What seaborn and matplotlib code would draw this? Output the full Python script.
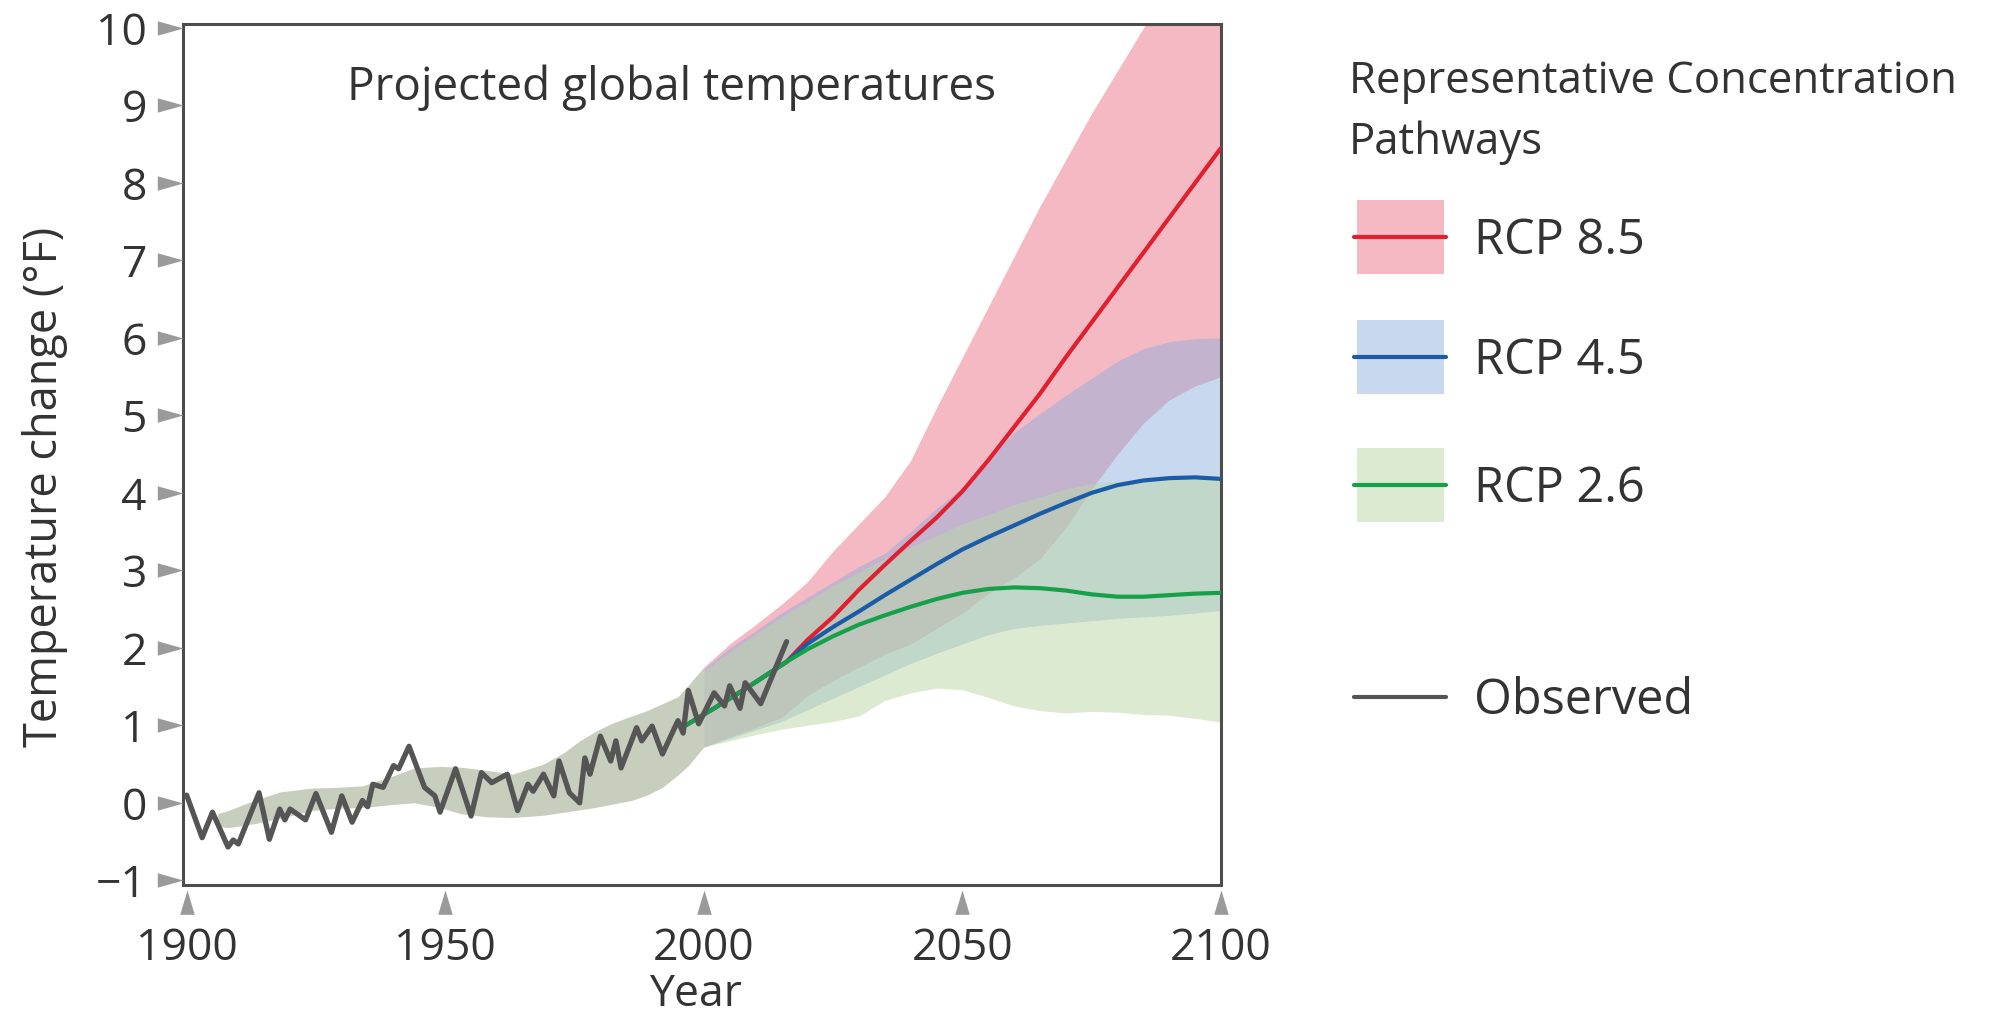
import matplotlib
matplotlib.use("Agg")
import matplotlib.pyplot as plt
from matplotlib.path import Path
from matplotlib.patches import Rectangle
from matplotlib.lines import Line2D
from matplotlib.transforms import blended_transform_factory
import pandas as pd
import seaborn as sns

# ---------------------------------------------------------------- data
obs_years = [1900, 1903, 1905, 1908, 1909, 1910, 1914, 1916, 1918, 1919,
             1920, 1923, 1925, 1928, 1930, 1932, 1934, 1935, 1936, 1938,
             1940, 1941, 1943, 1946, 1948, 1949, 1952, 1955, 1957, 1959,
             1962, 1964, 1966, 1967, 1969, 1971, 1972, 1974, 1976, 1977,
             1978, 1980, 1982, 1983, 1984, 1987, 1988, 1990, 1992, 1995,
             1996, 1997, 1999, 2002, 2004, 2005, 2007, 2008, 2011, 2016]
obs_values = [0.10, -0.45, -0.12, -0.57, -0.48, -0.53, 0.13, -0.47, -0.08, -0.22,
              -0.08, -0.22, 0.12, -0.38, 0.09, -0.25, 0.03, -0.05, 0.24, 0.20,
              0.48, 0.44, 0.73, 0.20, 0.09, -0.12, 0.44, -0.17, 0.39, 0.26,
              0.37, -0.10, 0.24, 0.15, 0.37, 0.09, 0.54, 0.13, 0.00, 0.58,
              0.37, 0.86, 0.54, 0.80, 0.45, 0.97, 0.80, 0.99, 0.63, 1.06,
              0.90, 1.45, 1.02, 1.42, 1.25, 1.51, 1.22, 1.55, 1.28, 2.08]

# modelled historical range
hist_years = [1906, 1908, 1913, 1918, 1924, 1929, 1934, 1940, 1944, 1949,
              1953, 1958, 1963, 1969, 1973, 1976, 1979, 1982, 1986, 1989,
              1992, 1995, 1997, 2000]
hist_upper = [-0.14, -0.10, 0.03, 0.14, 0.19, 0.20, 0.22, 0.35, 0.45, 0.47,
              0.46, 0.42, 0.37, 0.50, 0.65, 0.80, 0.92, 1.02, 1.12, 1.19,
              1.28, 1.37, 1.52, 1.75]
hist_lower = [-0.30, -0.32, -0.27, -0.20, -0.10, -0.07, -0.06, -0.02, 0.00, -0.06,
              -0.14, -0.18, -0.19, -0.16, -0.12, -0.09, -0.06, -0.02, 0.03, 0.10,
              0.20, 0.36, 0.48, 0.72]

# projected ranges
range_years = [2000, 2005, 2010, 2015, 2020, 2025, 2030, 2035, 2040, 2045, 2050,
               2055, 2060, 2065, 2070, 2075, 2080, 2085, 2090, 2095, 2100]
rcp85_upper = [1.75, 2.05, 2.30, 2.56, 2.85, 3.25, 3.60, 3.95, 4.42, 5.10, 5.75,
               6.40, 7.05, 7.70, 8.30, 8.90, 9.45, 10.00, 10.55, 11.10, 11.65]
rcp85_lower = [0.72, 0.85, 0.97, 1.10, 1.38, 1.58, 1.75, 1.92, 2.05, 2.25, 2.45,
               2.70, 2.90, 3.15, 3.55, 4.05, 4.50, 4.90, 5.20, 5.38, 5.50]
rcp45_upper = [1.73, 2.00, 2.22, 2.45, 2.65, 2.85, 3.05, 3.22, 3.50, 3.80, 4.07,
               4.45, 4.78, 5.02, 5.26, 5.48, 5.70, 5.86, 5.95, 5.99, 6.00]
rcp45_lower = [0.72, 0.83, 0.94, 1.05, 1.20, 1.35, 1.50, 1.65, 1.80, 1.93, 2.05,
               2.17, 2.25, 2.29, 2.32, 2.35, 2.38, 2.40, 2.42, 2.45, 2.48]
rcp26_upper = [1.70, 1.95, 2.18, 2.40, 2.60, 2.80, 2.98, 3.15, 3.30, 3.45, 3.60,
               3.72, 3.85, 3.95, 4.05, 4.12, 4.15, 4.17, 4.17, 4.18, 4.18]
rcp26_lower = [0.72, 0.80, 0.88, 0.95, 1.00, 1.05, 1.12, 1.32, 1.42, 1.48, 1.46,
               1.36, 1.25, 1.19, 1.16, 1.18, 1.17, 1.14, 1.13, 1.09, 1.04]

# projected multi-model means
mean_years = [1996, 2002, 2008, 2016, 2020, 2025, 2030, 2035, 2040, 2045, 2050,
              2055, 2060, 2065, 2070, 2075, 2080, 2085, 2090, 2095, 2100]
rcp85_mean = [0.98, 1.22, 1.47, 1.82, 2.10, 2.40, 2.75, 3.07, 3.38, 3.68, 4.02,
              4.42, 4.85, 5.28, 5.75, 6.20, 6.65, 7.10, 7.55, 8.00, 8.45]
rcp45_mean = [0.98, 1.22, 1.47, 1.82, 2.05, 2.27, 2.47, 2.68, 2.88, 3.08, 3.27,
              3.43, 3.58, 3.73, 3.87, 4.00, 4.10, 4.16, 4.19, 4.20, 4.18]
rcp26_mean = [0.98, 1.22, 1.47, 1.82, 1.98, 2.15, 2.30, 2.42, 2.53, 2.63, 2.71,
              2.76, 2.78, 2.77, 2.74, 2.69, 2.66, 2.66, 2.68, 2.70, 2.71]

scenario_names = ["RCP 8.5", "RCP 4.5", "RCP 2.6"]
y_ticks = [-1, 0, 1, 2, 3, 4, 5, 6, 7, 8, 9, 10]
x_ticks = [1900, 1950, 2000, 2050, 2100]

# ---------------------------------------------------------------- style
sns.set_theme(style="white")
plt.rcParams["font.family"] = ["Open Sans", "DejaVu Sans"]
plt.rcParams["axes.unicode_minus"] = True

TEXT = "#333333"
SPINE = "#4d4d4d"
TICK = "#9a9a9a"
band_colors = {"RCP 8.5": "#ed7589", "RCP 4.5": "#8badde", "RCP 2.6": "#bbd7a7"}
band_alpha = {"RCP 8.5": 0.5, "RCP 4.5": 0.47, "RCP 2.6": 0.5}
line_colors = {"RCP 8.5": "#e0202e", "RCP 4.5": "#1b5ca8", "RCP 2.6": "#15a049"}
HIST_BAND = "#c8cebe"
OBS_COLOR = "#555555"

W, H, DPI = 1995, 1026, 100
fig = plt.figure(figsize=(W / DPI, H / DPI), dpi=DPI)
ax = fig.add_axes([183 / W, 1 - 885 / H, (1221 - 183) / W, (885 - 24) / H])

# ---------------------------------------------------------------- bands
ax.fill_between(hist_years, hist_lower, hist_upper, color=HIST_BAND,
                linewidth=0, zorder=1)
bands = {
    "RCP 8.5": (rcp85_lower, rcp85_upper),
    "RCP 4.5": (rcp45_lower, rcp45_upper),
    "RCP 2.6": (rcp26_lower, rcp26_upper),
}
for name in scenario_names:
    lo, hi = bands[name]
    ax.fill_between(range_years, lo, hi, color=band_colors[name],
                    alpha=band_alpha[name], linewidth=0, zorder=2)

# ---------------------------------------------------------------- lines
means = pd.DataFrame({
    "year": mean_years * 3,
    "value": rcp85_mean + rcp45_mean + rcp26_mean,
    "scenario": [n for n in scenario_names for _ in mean_years],
})
for name in scenario_names:
    sub = means[means["scenario"] == name]
    sns.lineplot(data=sub, x="year", y="value", ax=ax, color=line_colors[name],
                 linewidth=3.0, estimator=None, sort=False, zorder=3)

observed = pd.DataFrame({"year": obs_years, "value": obs_values})
sns.lineplot(data=observed, x="year", y="value", ax=ax, color=OBS_COLOR,
             linewidth=3.8, estimator=None, sort=False, zorder=4)

# ---------------------------------------------------------------- axes
ax.set_xlim(1899.3, 2100)
ax.set_ylim(-1.06, 10.05)
for side in ["left", "right", "top", "bottom"]:
    ax.spines[side].set_visible(True)
    ax.spines[side].set_color(SPINE)
    ax.spines[side].set_linewidth(2.2)

ax.set_xticks(x_ticks)
ax.set_xticklabels([str(t) for t in x_ticks])
ax.set_yticks(y_ticks)
ax.set_yticklabels([str(t).replace("-", "\u2212") for t in y_ticks])
ax.tick_params(axis="both", length=0, labelsize=32, labelcolor=TEXT)
ax.tick_params(axis="x", pad=30)
ax.tick_params(axis="y", pad=26)

# triangular tick marks outside the frame
right_tri = Path([(-1, 0.28), (0, 0), (-1, -0.28), (-1, 0.28)],
                 [Path.MOVETO, Path.LINETO, Path.LINETO, Path.CLOSEPOLY])
up_tri = Path([(-0.3, -1), (0, 0), (0.3, -1), (-0.3, -1)],
              [Path.MOVETO, Path.LINETO, Path.LINETO, Path.CLOSEPOLY])
ax.plot([0] * len(y_ticks), y_ticks, linestyle="none", marker=right_tri,
        markersize=37, color=TICK, markeredgewidth=0, clip_on=False,
        transform=blended_transform_factory(ax.transAxes, ax.transData), zorder=5)
ax.plot(x_ticks, [-0.006] * len(x_ticks), linestyle="none", marker=up_tri,
        markersize=35, color=TICK, markeredgewidth=0, clip_on=False,
        transform=blended_transform_factory(ax.transData, ax.transAxes), zorder=5)

ax.set_xlabel("Year", fontsize=32, color=TEXT)
ax.set_ylabel("Temperature change (\u00b0F)", fontsize=32.5, color=TEXT)
ax.xaxis.set_label_coords(0.495, (885 - 995) / 861)
ax.xaxis.label.set_verticalalignment("center")
ax.yaxis.set_label_coords((68 - 183) / 1038, (885 - 487) / 861)

ax.text(0.471, 0.926, "Projected global temperatures", transform=ax.transAxes,
        ha="center", va="center", fontsize=33, color=TEXT)

# ---------------------------------------------------------------- key
def fx(px):
    return px / W


def fy(py):
    return 1 - py / H


fig.text(fx(1349), fy(82), "Representative Concentration", fontsize=31.5,
         color=TEXT, ha="left", va="center")
fig.text(fx(1349), fy(143), "Pathways", fontsize=31.5, color=TEXT,
         ha="left", va="center")

key_rows = {"RCP 8.5": 237, "RCP 4.5": 357, "RCP 2.6": 485}
for name in scenario_names:
    yc = key_rows[name]
    fig.add_artist(Rectangle((fx(1357), fy(yc + 37)), fx(1444) - fx(1357),
                             fy(yc - 37) - fy(yc + 37), transform=fig.transFigure,
                             facecolor=band_colors[name], alpha=band_alpha[name],
                             linewidth=0))
    fig.add_artist(Line2D([fx(1354), fx(1446)], [fy(yc), fy(yc)],
                          transform=fig.transFigure, color=line_colors[name],
                          linewidth=3.0))
    fig.text(fx(1474), fy(yc + 4), name, fontsize=35, color=TEXT,
             ha="left", va="center")

fig.add_artist(Line2D([fx(1354), fx(1446)], [fy(697), fy(697)],
                      transform=fig.transFigure, color=OBS_COLOR, linewidth=3.0))
fig.text(fx(1474), fy(701), "Observed", fontsize=35, color=TEXT,
         ha="left", va="center")

fig.savefig("out.png", dpi=DPI, facecolor="white")
